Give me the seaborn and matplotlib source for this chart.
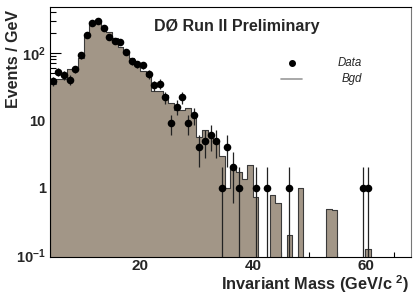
import numpy as np
import pandas as pd
import matplotlib
matplotlib.use("Agg")
import matplotlib.pyplot as plt
from matplotlib.ticker import FixedLocator, FixedFormatter, MultipleLocator, LogLocator, NullFormatter
import seaborn as sns

# ── data (1 GeV bins from 4 to 68) ─────────────────────────
mass_lo, mass_hi = 4, 68
bin_centers = np.arange(mass_lo, mass_hi) + 0.5

bgd = [34, 41, 41, 58, 58, 84, 171, 285, 285, 255,
       205, 165, 122, 106, 84, 67, 54, 45, 27, 27,
       24, 18, 14, 14, 15, 11.4, 5.7, 7.2, 6.0, 4.6,
       2.9, 1.0, 2.0, 1.7, 1.33, 2.2, 0.73, 0, 0, 0.77,
       0.6, 0, 0.2, 0, 1.0, 0, 0, 0, 0, 0.49,
       0.47, 0, 0, 0, 0, 0, 0.124, 0, 0, 0,
       0, 0, 0, 0]

data = [38, 52, 47, 40, 57, 92, 187, 276, 296, 238,
        175, 150, 143, 103, 75, 68, 66, 48, 33, 35,
        22, 9, 16, 22, 9, 12, 4, 5, 6, 5,
        1, 4, 2, 1, 0, 0, 1, 0, 1, 0,
        0, 0, 1, 0, 0, 0, 0, 0, 0, 0,
        0, 0, 0, 0, 0, 1, 1, 0, 0, 0,
        0, 0, 0, 0]

x_ticks = [20, 40, 60]
y_ticks = [0.1, 1, 10, 100]
y_tick_labels = [r"$\mathdefault{10^{-1}}$", "1", "10", r"$\mathdefault{10^{2}}$"]

FILL = "#a29687"

df_bgd = pd.DataFrame({"mass": bin_centers, "bgd": bgd})
df_data = pd.DataFrame({"mass": bin_centers, "n": np.array(data, dtype=float)})
df_data = df_data[df_data["n"] > 0]

sns.set_style("ticks")
plt.rcParams["font.family"] = ["Liberation Sans", "DejaVu Sans"]
plt.rcParams["mathtext.default"] = "regular"

fig = plt.figure(figsize=(4.19, 3.0), dpi=100)
ax = fig.add_axes([50 / 419, 1 - 256.5 / 300, 360.5 / 419, 249.5 / 300])

# background histogram
sns.histplot(data=df_bgd, x="mass", weights="bgd", binwidth=1,
             binrange=(mass_lo, mass_hi), element="step",
             fill=True, color=FILL, alpha=1, edgecolor="#3a3a3a",
             linewidth=0.8, ax=ax)

# data points with sqrt(N) errors
ax.errorbar(df_data["mass"], df_data["n"], yerr=np.sqrt(df_data["n"]),
            fmt="none", ecolor="#222222", elinewidth=0.9, capsize=0, zorder=3)
sns.scatterplot(data=df_data, x="mass", y="n", color="black", s=30,
                linewidth=0, zorder=4, ax=ax)

ax.set_yscale("log")
ax.set_xlim(mass_lo, mass_hi)
ax.set_ylim(0.095, 480)

ax.xaxis.set_major_locator(FixedLocator(x_ticks))
ax.xaxis.set_minor_locator(MultipleLocator(5))
ax.yaxis.set_major_locator(FixedLocator(y_ticks))
ax.yaxis.set_major_formatter(FixedFormatter(y_tick_labels))
ax.yaxis.set_minor_locator(LogLocator(base=10, subs=np.arange(2, 10)))
ax.yaxis.set_minor_formatter(NullFormatter())

ax.tick_params(axis="both", which="both", direction="in", top=False, right=False,
               width=0.8, color="black")
ax.tick_params(axis="x", which="major", length=5, pad=2, labelsize=11)
ax.tick_params(axis="x", which="minor", length=3.5)
ax.tick_params(axis="y", which="major", length=8, pad=3, labelsize=10.5)
ax.tick_params(axis="y", which="minor", length=4.5)
for lab in ax.get_xticklabels() + ax.get_yticklabels():
    lab.set_fontweight("bold")

for sp in ax.spines.values():
    sp.set_visible(True)
    sp.set_linewidth(0.8)
    sp.set_color("black")
ax.spines["right"].set_color("#777777")

ax.set_xlabel(r"Invariant Mass (GeV/c $^{2}$)", fontsize=11.8, fontweight="bold",
              ha="right", va="center")
ax.xaxis.set_label_coords((409 - 50) / 360.5, (256.5 - 284.5) / 249.5)
ax.set_ylabel("Events / GeV", fontsize=11.5, fontweight="bold", va="center")
ax.yaxis.set_label_coords((14 - 50) / 360.5, (256.5 - 59) / 249.5)

ax.text(0.518, 0.921, "DØ Run II Preliminary", transform=ax.transAxes,
        ha="center", va="center", fontsize=11.5, fontweight="bold")

# legend drawn by hand
ax.plot([0.670], [0.774], "o", color="black", ms=4, transform=ax.transAxes)
ax.plot([0.640, 0.700], [0.710, 0.710], color="#999999", lw=1.2, transform=ax.transAxes)
ax.text(0.865, 0.774, "Data", transform=ax.transAxes, ha="right", va="center",
        fontsize=8.3, style="italic")
ax.text(0.865, 0.710, "Bgd", transform=ax.transAxes, ha="right", va="center",
        fontsize=8.3, style="italic")

fig.savefig("out.png", dpi=100)
